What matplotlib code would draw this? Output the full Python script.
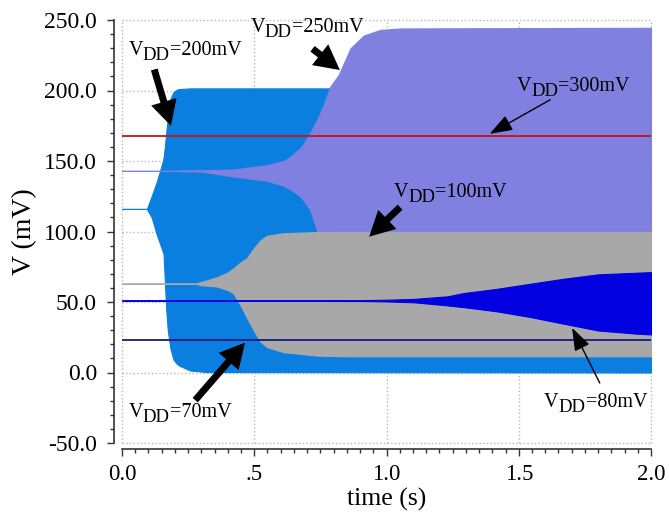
import matplotlib
matplotlib.use('Agg')
import matplotlib.pyplot as plt
from matplotlib.ticker import MultipleLocator, FixedLocator


# oscillation envelopes (mV), one per supply
T_200 = [0.0, 0.094, 0.112, 0.131, 0.150, 0.157, 0.162, 0.167, 0.173,
         0.183, 0.195, 0.207, 0.215, 0.258, 0.32, 2.0]
UP_200 = [116, 116, 125, 135, 147, 152, 160, 170, 180, 194, 199, 200.5,
          201, 201.5, 201.5, 201.5]
LO_200 = [116, 116, 110, 98, 88, 84, 65, 45, 30, 17, 9, 6.3, 5, 1.4, 0.3, 0]

T_250 = [0.0, 0.16, 0.30, 0.422, 0.548, 0.611, 0.636, 0.674, 0.687, 0.712,
         0.737, 0.763, 0.788, 0.819, 0.864, 0.914, 0.977, 1.053, 2.0]
UP_250 = [143, 143, 143.5, 144, 147, 150, 153, 159, 162.4, 170, 179, 190,
          203, 211, 230, 239, 243, 244, 244.5]
LO_250 = [143, 143, 142.5, 139, 136, 132.5, 130, 125, 122, 115, 100.8,
          85, 70, 55, 40, 28, 20, 16, 14]

T_100 = [0.0, 0.28, 0.295, 0.359, 0.40, 0.422, 0.447, 0.472, 0.498, 0.523,
         0.548, 0.611, 0.737, 0.85, 2.0]
UP_100 = [63, 63, 64, 67.5, 71, 74, 78, 81, 88, 93.7, 97, 98.8, 99.6, 99.7,
          99.7]
LO_100 = [63, 63, 62, 61, 58.5, 56, 48, 39, 30, 22, 18, 14.4, 12, 11.5, 11.5]

T_80 = [0.0, 0.9, 1.0, 1.103, 1.23, 1.29, 1.42, 1.545, 1.67, 1.8, 1.95, 2.0]
UP_80 = [51, 51.3, 51.6, 52.2, 54, 56.3, 59.4, 63, 66.5, 69.6, 70.8, 71.2]
LO_80 = [51, 50.7, 50.4, 49.8, 47.6, 46.4, 43.3, 39.3, 34.6, 29.8, 27.5, 27]

# supplies that stay flat over the whole run
T_FLAT = [0.0, 2.0]
V_70 = [22.7, 22.7]
V_300 = [167.8, 167.8]

X_TICKS = [0.0, 0.5, 1.0, 1.5, 2.0]
X_TICK_LABELS = ['0.0', '.5', '1.0', '1.5', '2.0']
Y_TICKS = [-50, 0, 50, 100, 150, 200, 250]

# label text, text anchor, arrow tail, arrow head, thick arrow?
LABELS = [
    ('200mV', (0.024, 225.1), (0.119, 216.8), (0.188, 173.1), True),
    ('250mV', (0.485, 241.5), (0.712, 230.8), (0.832, 213.3), True),
    ('300mV', (1.492, 199.9), (1.628, 194.4), (1.381, 168.3), False),
    ('100mV', (1.028, 124.5), (1.059, 118.6), (0.927, 95.0), True),
    ('70mV', (0.024, -31.7), (0.270, -21.1), (0.472, 22.7), True),
    ('80mV', (1.596, -24.6), (1.811, -9.2), (1.697, 33.4), False),
]

plt.rcParams['font.family'] = ['Liberation Serif', 'DejaVu Serif']


def band(ax, t, upper, lower, color):
    ax.fill_between(t, lower, upper, facecolor=color, edgecolor=color,
                    linewidth=0.8, zorder=2)


def vdd_label(ax, value, pos):
    """V with a lowered DD, then =value, in three pieces"""
    size = 14.5
    v = ax.text(pos[0], pos[1], 'V', fontsize=size,
                ha='left', va='baseline', zorder=5)
    dd = ax.annotate('DD', xy=(1, 0), xycoords=v, xytext=(0, -3),
                     textcoords='offset points', fontsize=size - 1,
                     ha='left', va='bottom', zorder=5)
    ax.annotate('=' + value, xy=(1, 0), xycoords=dd, xytext=(0, 3),
                textcoords='offset points', fontsize=size,
                ha='left', va='bottom', zorder=5)


def arrow(ax, tail, head, thick):
    if thick:
        props = dict(arrowstyle='simple,head_length=0.9,head_width=0.95,'
                                'tail_width=0.25',
                     mutation_scale=20, color='black', lw=0)
    else:
        props = dict(arrowstyle='-|>,head_length=0.7,head_width=0.25',
                     mutation_scale=20, color='black', lw=1.0)
    ax.annotate('', xy=head, xytext=tail, arrowprops=props, zorder=6)


fig = plt.figure(figsize=(6.69, 5.16), dpi=100)
ax = fig.add_axes([122 / 669, 73 / 516, 529 / 669, 423 / 516])

band(ax, T_200, UP_200, LO_200, '#0a7fe0')
band(ax, T_250, UP_250, LO_250, '#8080e0')
band(ax, T_100, UP_100, LO_100, '#a8a8a8')
band(ax, T_80, UP_80, LO_80, '#0000e0')
ax.plot(T_FLAT, V_70, color='#1a1a80', lw=1.3, zorder=3)
ax.plot(T_FLAT, V_300, color='#d01010', lw=1.3, zorder=3)

for value, pos, tail, head, thick in LABELS:
    vdd_label(ax, value, pos)
    arrow(ax, tail, head, thick)

ax.set_xlim(0, 2.0)
ax.set_ylim(-50, 250)
ax.xaxis.set_major_locator(FixedLocator(X_TICKS))
ax.set_xticklabels(X_TICK_LABELS)
ax.xaxis.set_minor_locator(MultipleLocator(0.05))
ax.yaxis.set_major_locator(FixedLocator(Y_TICKS))
ax.set_yticklabels(['{:.1f}'.format(y) for y in Y_TICKS])
ax.yaxis.set_minor_locator(MultipleLocator(10))

ax.tick_params(which='major', direction='out', length=5, width=1.0,
               color='#333333')
ax.tick_params(axis='x', which='major', pad=5.5, labelsize=16.5)
ax.tick_params(axis='y', which='major', pad=7, labelsize=17)
ax.tick_params(which='minor', direction='out', length=3, width=1.0,
               color='#333333')

ax.spines['top'].set_visible(False)
ax.spines['right'].set_visible(False)
ax.spines['left'].set_position(('outward', 6))
ax.spines['bottom'].set_position(('outward', 4.5))
for side in ('left', 'bottom'):
    ax.spines[side].set_color('#333333')
    ax.spines[side].set_linewidth(1.2)

ax.set_axisbelow(True)
ax.grid(True, which='major', linestyle=':', color='#b8b8b8', linewidth=1.0)
for line in ax.get_xgridlines() + ax.get_ygridlines():
    line.set_clip_on(False)

ax.set_xlabel('time (s)', fontsize=18.5)
ax.set_ylabel('V (mV)', fontsize=20)
ax.xaxis.set_label_coords(0.5, -0.1064)
ax.yaxis.set_label_coords(-0.16, 0.5)

fig.savefig('out.png', dpi=100)
